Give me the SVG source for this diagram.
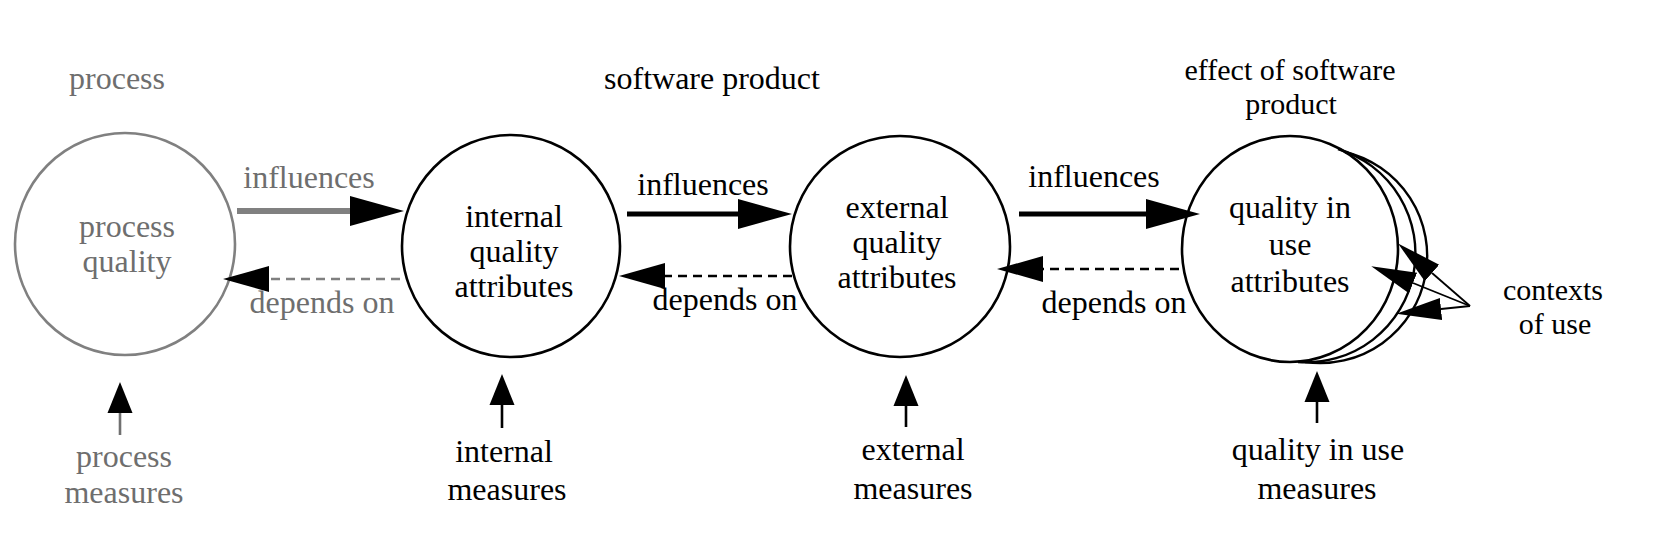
<svg xmlns="http://www.w3.org/2000/svg" width="1654" height="546" viewBox="0 0 1654 546">
<style>
text{font-family:"Liberation Serif","Times New Roman",serif;font-size:32px;text-anchor:middle;fill:#000}
text.g{fill:#6e6e6e}
text.s{font-size:30px}
.node{fill:#fff;stroke:#000;stroke-width:2.6}
.node.g{stroke:#808080}
.arc{fill:none;stroke:#000;stroke-width:2.4}
.inf{stroke:#000;stroke-width:5;fill:none}
.inf.g{stroke:#808080;stroke-width:6}
.dep{stroke:#000;stroke-width:2.5;stroke-dasharray:9 6;fill:none}
.dep.g{stroke:#808080}
.up{stroke:#000;stroke-width:2.6;fill:none}
.up.g{stroke:#707070}
.ctx{stroke:#000;stroke-width:1.8;fill:none}
</style>
<defs>
<marker id="hInf" markerUnits="userSpaceOnUse" viewBox="0 0 56 34" markerWidth="56" markerHeight="34" refX="0" refY="17" orient="auto"><path d="M0,2 L54,17 L0,32 z" fill="#000"/></marker>
<marker id="hDep" markerUnits="userSpaceOnUse" viewBox="0 0 48 30" markerWidth="48" markerHeight="30" refX="0" refY="15" orient="auto"><path d="M0,2 L46,15 L0,28 z" fill="#000"/></marker>
<marker id="hUp" markerUnits="userSpaceOnUse" viewBox="0 0 32 28" markerWidth="32" markerHeight="28" refX="0" refY="14" orient="auto"><path d="M0,1.5 L31,14 L0,26.5 z" fill="#000"/></marker>
<marker id="hCtx" markerUnits="userSpaceOnUse" viewBox="0 0 46 26" markerWidth="46" markerHeight="26" refX="0" refY="13" orient="auto"><path d="M0,2 L45,13 L0,24 z" fill="#000"/></marker>
</defs>
<rect width="1654" height="546" fill="#fff"/>

<g id="titles">
<text class="g" x="117" y="89">process</text>
<text x="712" y="89">software product</text>
<text class="s" x="1290" y="80">effect of software</text>
<text class="s" x="1291" y="114">product</text>
</g>

<g id="node-process-quality">
<ellipse class="node g" cx="125" cy="244" rx="110" ry="111"/>
<text class="g" x="127" y="237">process</text>
<text class="g" x="127" y="272">quality</text>
</g>

<g id="node-internal">
<ellipse class="node" cx="511" cy="246" rx="109" ry="111"/>
<text x="514" y="227">internal</text>
<text x="514" y="262">quality</text>
<text x="514" y="297">attributes</text>
</g>

<g id="node-external">
<ellipse class="node" cx="900" cy="246.5" rx="110" ry="110.5"/>
<text x="897" y="218">external</text>
<text x="897" y="253">quality</text>
<text x="897" y="288">attributes</text>
</g>

<g id="node-quality-in-use">
<ellipse class="node" cx="1290" cy="249" rx="108" ry="113"/>
<path class="arc" d="M1338 149 A109 109 0 0 1 1298 362"/>
<path class="arc" d="M1345 152 A107 107 0 0 1 1305 362"/>
<text x="1290" y="218">quality in</text>
<text x="1290" y="255">use</text>
<text x="1290" y="292">attributes</text>
</g>

<g id="node-contexts">
<text class="s" x="1553" y="300">contexts</text>
<text class="s" x="1555" y="334">of use</text>
</g>

<g id="node-process-measures">
<text class="g" x="124" y="467">process</text>
<text class="g" x="124" y="503">measures</text>
</g>
<g id="node-internal-measures">
<text x="504" y="462">internal</text>
<text x="507" y="500">measures</text>
</g>
<g id="node-external-measures">
<text x="913" y="460">external</text>
<text x="913" y="499">measures</text>
</g>
<g id="node-qiu-measures">
<text x="1318" y="460">quality in use</text>
<text x="1317" y="499">measures</text>
</g>

<g id="connectors">
<line class="inf g" x1="237" y1="211" x2="350" y2="211" marker-end="url(#hInf)"/>
<line class="inf" x1="627" y1="214" x2="738" y2="214" marker-end="url(#hInf)"/>
<line class="inf" x1="1019" y1="214" x2="1146" y2="214" marker-end="url(#hInf)"/>

<line class="dep g" x1="400" y1="279" x2="269" y2="279" marker-end="url(#hDep)"/>
<line class="dep" x1="792" y1="276" x2="665" y2="276" marker-end="url(#hDep)"/>
<line class="dep" x1="1179" y1="269" x2="1043" y2="269" marker-end="url(#hDep)"/>

<line class="up g" x1="120" y1="435" x2="120" y2="413" marker-end="url(#hUp)"/>
<line class="up" x1="502" y1="428" x2="502" y2="405" marker-end="url(#hUp)"/>
<line class="up" x1="906" y1="427" x2="906" y2="406" marker-end="url(#hUp)"/>
<line class="up" x1="1317" y1="423" x2="1317" y2="402" marker-end="url(#hUp)"/>

<line class="ctx" x1="1470" y1="306" x2="1432" y2="273" marker-end="url(#hCtx)"/>
<line class="ctx" x1="1470" y1="306" x2="1413" y2="283" marker-end="url(#hCtx)"/>
<line class="ctx" x1="1470" y1="306" x2="1441" y2="309" marker-end="url(#hCtx)"/>
</g>

<g id="labels">
<text class="g" x="309" y="188">influences</text>
<text class="g" x="322" y="313">depends on</text>
<text x="703" y="195">influences</text>
<text x="725" y="310">depends on</text>
<text x="1094" y="187">influences</text>
<text x="1114" y="313">depends on</text>
</g>
</svg>
